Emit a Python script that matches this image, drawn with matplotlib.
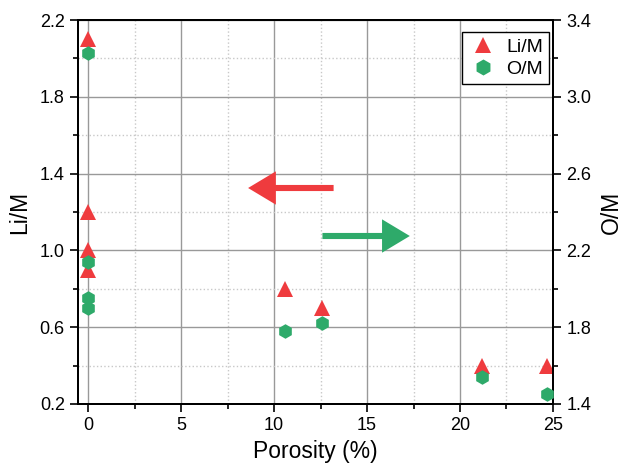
import matplotlib
matplotlib.use("Agg")
from matplotlib import pyplot as plt
from matplotlib.ticker import MultipleLocator

plt.rcParams['font.family'] = ['Liberation Sans', 'DejaVu Sans']

# DATA
porosity_li = [0, 0, 0, 0, 10.6, 12.6, 21.2, 24.7]
li_m = [2.1, 1.2, 1.0, 0.9, 0.8, 0.7, 0.4, 0.4]

porosity_o = [0, 0, 0, 0, 10.6, 12.6, 21.2, 24.7]
o_m = [3.23, 2.14, 1.95, 1.90, 1.78, 1.82, 1.54, 1.45]

RED = "#EF3B3E"
GREEN = "#2EAA6A"

fig = plt.figure(figsize=(6.22, 4.73), dpi=100)
ax = fig.add_axes([0.1254, 0.1459, 0.7636, 0.8118])
ax2 = ax.twinx()

ax.set_xlim(-0.55, 25)
ax.set_ylim(0.2, 2.2)
ax2.set_ylim(1.4, 3.4)

ax.xaxis.set_major_locator(MultipleLocator(5))
ax.xaxis.set_minor_locator(MultipleLocator(2.5))
ax.yaxis.set_major_locator(MultipleLocator(0.4, offset=0.2))
ax.yaxis.set_minor_locator(MultipleLocator(0.2))
ax2.yaxis.set_major_locator(MultipleLocator(0.4, offset=0.2))
ax2.yaxis.set_minor_locator(MultipleLocator(0.2))

ax.grid(which='major', color='#999999', linestyle='-', linewidth=1.0)
ax.grid(which='minor', color='#c8c8c8', linestyle=':', linewidth=1.0)
ax.set_axisbelow(True)

for a in (ax, ax2):
    a.tick_params(which='major', direction='out', length=6, width=1.2,
                  labelsize=13)
    a.tick_params(which='minor', direction='out', length=3.5, width=1.2)
    for s in a.spines.values():
        s.set_linewidth(1.4)

h1 = ax.plot(porosity_li, li_m, linestyle='none', marker='^', markersize=11,
             color=RED, markeredgewidth=0, label='Li/M', zorder=5)[0]
h2 = ax2.plot(porosity_o, o_m, linestyle='none', marker='h', markersize=10.5,
              color=GREEN, markeredgewidth=0, label='O/M', zorder=5)[0]

# Direction arrows
arrow_style = 'simple,head_length=1.0,head_width=1.2,tail_width=0.22'
ax.annotate('', xy=(8.6, 1.325), xytext=(13.2, 1.325),
            arrowprops=dict(arrowstyle=arrow_style, color=RED,
                            mutation_scale=20, shrinkA=0, shrinkB=0,
                            linewidth=0),
            zorder=6)
ax.annotate('', xy=(17.3, 1.075), xytext=(12.6, 1.075),
            arrowprops=dict(arrowstyle=arrow_style, color=GREEN,
                            mutation_scale=20, shrinkA=0, shrinkB=0,
                            linewidth=0),
            zorder=6)

ax.set_xlabel("Porosity (%)", fontsize=16.5, labelpad=4)
ax.set_ylabel("Li/M", fontsize=16.5, labelpad=6)
ax2.set_ylabel("O/M", fontsize=16.5, labelpad=6)

leg = ax2.legend([h1, h2], ['Li/M', 'O/M'], loc='upper right', fontsize=14,
                 fancybox=False, edgecolor='black', framealpha=1,
                 handletextpad=0.4, borderpad=0.3, handlelength=1.6,
                 labelspacing=0.25, markerscale=1.1, borderaxespad=0,
                 bbox_to_anchor=(0.992, 0.968))
leg.get_frame().set_linewidth(1.0)

fig.savefig("out.png", dpi=100)
